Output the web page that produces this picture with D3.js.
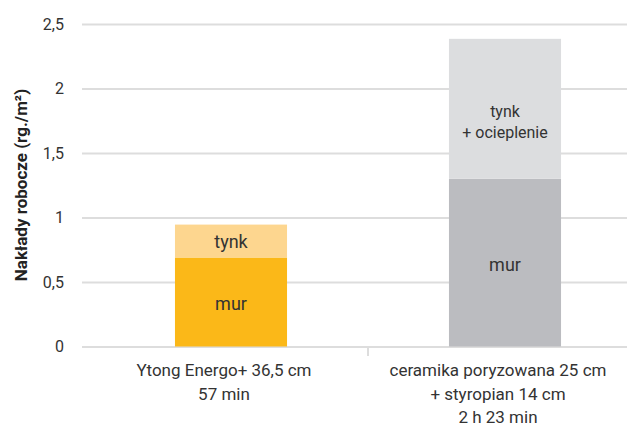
<!DOCTYPE html>
<html><head><meta charset="utf-8">
<script src="https://cdn.jsdelivr.net/npm/d3@7"></script>
<style>body{margin:0;background:#fff}svg{display:block}text{font-family:Roboto,"Noto Sans",sans-serif}</style>
</head><body>
<svg id="c" width="627" height="426"></svg>
<script>
const categories = ["Ytong Energo+ 36,5 cm|57 min", "ceramika poryzowana 25 cm|+ styropian 14 cm|2 h 23 min"];
const murValues = [0.69, 1.30];
const topValues = [0.255, 1.085];
const murLabels = ["mur", "mur"];
const topLabels = ["tynk", "tynk|+ ocieplenie"];
const yTicks = [0, 0.5, 1, 1.5, 2, 2.5];
const yTickLabels = ["0", "0,5", "1", "1,5", "2", "2,5"];
const murColors = ["#FBB818", "#BBBCC0"];
const topColors = ["#FDD68F", "#DCDDDF"];

const svg = d3.select("#c");
const y = d3.scaleLinear().domain([0, 2.5]).range([346.5, 24]);
const x = d3.scaleBand().domain(categories).range([94, 642]).paddingInner(0.591).paddingOuter(0.2955);

const yAxis = d3.axisLeft(y).tickValues(yTicks).tickFormat((d,i)=>yTickLabels[i]).tickSize(-(627-82)).tickPadding(18);
const ga = svg.append("g").attr("transform","translate(82,0)").call(yAxis);
ga.select(".domain").remove();
ga.selectAll(".tick line").attr("stroke","#dddddd").attr("stroke-width",2);
ga.selectAll(".tick text").attr("fill","#333").attr("font-size",16).attr("font-family","Roboto");

const mid = (x(categories[0]) + x.bandwidth() + x(categories[1]))/2;
svg.append("line").attr("x1",mid).attr("x2",mid).attr("y1",347).attr("y2",356).attr("stroke","#dddddd").attr("stroke-width",2);

const data = categories.map((c,i)=>({c, mur: murValues[i], top: topValues[i], i}));
svg.selectAll("rect.mur").data(data).join("rect").attr("class","mur")
  .attr("x",d=>x(d.c)).attr("width",x.bandwidth())
  .attr("y",d=>y(d.mur)).attr("height",d=>y(0)-y(d.mur)).attr("fill",d=>murColors[d.i]);
svg.selectAll("rect.top").data(data).join("rect").attr("class","top")
  .attr("x",d=>x(d.c)).attr("width",x.bandwidth())
  .attr("y",d=>y(d.mur+d.top)).attr("height",d=>y(d.mur)-y(d.mur+d.top)).attr("fill",d=>topColors[d.i]);

function multiline(sel, lines, lh){
  lines.forEach((l,k)=>sel.append("tspan").attr("x",sel.attr("x")).attr("dy",k===0?0:lh).text(l));
}
data.forEach(d=>{
  const cx = x(d.c)+x.bandwidth()/2;
  const t1 = svg.append("text").attr("x",cx).attr("y",(y(0)+y(d.mur))/2+8).attr("text-anchor","middle").attr("font-size",18).attr("fill","#333");
  multiline(t1, murLabels[d.i].split("|"), 0);
  const tl = topLabels[d.i].split("|");
  const lh = 21;
  const multi = tl.length>1;
  const t2 = svg.append("text").attr("x",cx).attr("y",(y(d.mur)+y(d.mur+d.top))/2+(multi?8:7)).attr("text-anchor","middle").attr("font-size",multi?16:18).attr("fill","#333");
  multiline(t2, tl, lh);
  const t3 = svg.append("text").attr("x",cx-7).attr("y",376).attr("text-anchor","middle").attr("font-size",17).attr("fill","#333");
  multiline(t3, d.c.split("|"), 23.5);
});

svg.append("text").attr("transform","translate(27,185) rotate(-90)").attr("text-anchor","middle")
  .attr("font-size",17).attr("font-weight","bold").attr("fill","#222").text("Nakłady robocze (rg./m²)");
</script>
</body></html>
